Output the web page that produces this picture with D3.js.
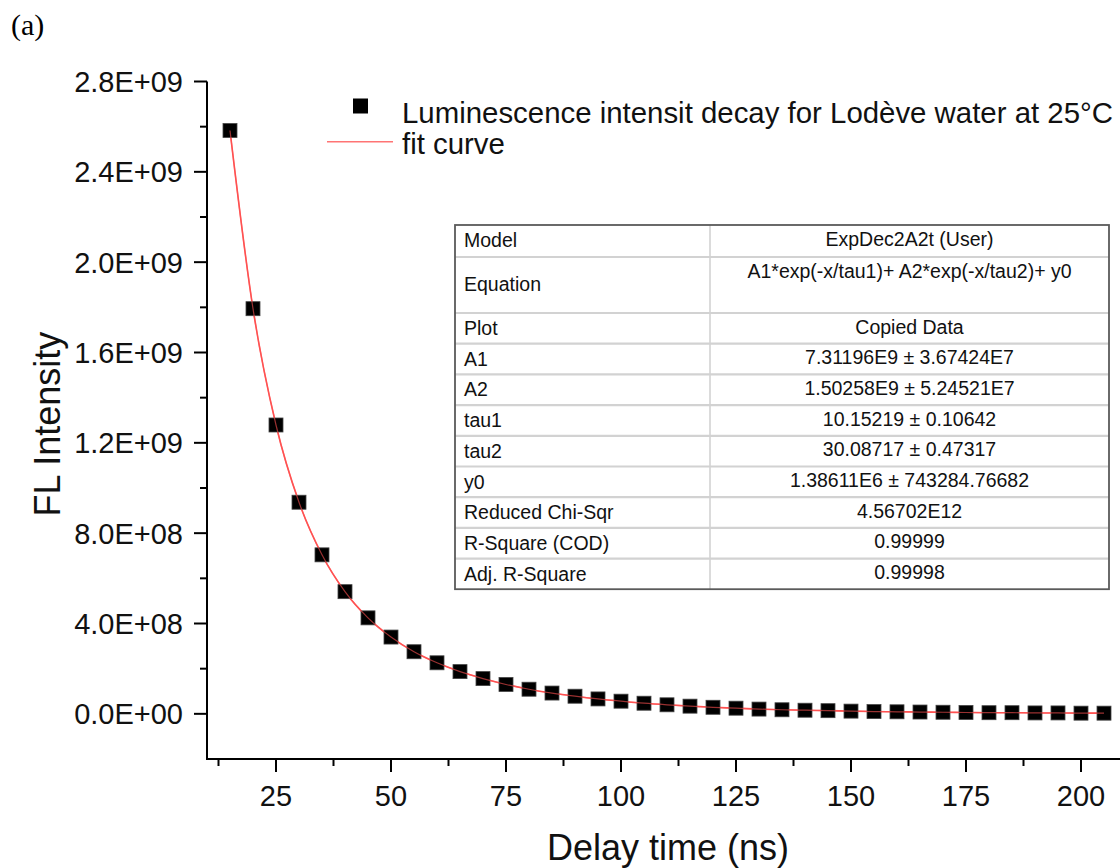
<!DOCTYPE html>
<html>
<head>
<meta charset="utf-8">
<script src="https://cdn.jsdelivr.net/npm/d3@7"></script>
<style>
  html, body { margin: 0; padding: 0; background: #fff; }
  svg { display: block; font-family: "Liberation Sans", Arial, sans-serif; }
</style>
</head>
<body>
<svg id="chart" width="1120" height="868"></svg>
<script>
// data
const delayTime = [15, 20, 25, 30, 35, 40, 45, 50, 55, 60, 65, 70, 75, 80, 85, 90, 95, 100,
  105, 110, 115, 120, 125, 130, 135, 140, 145, 150, 155, 160, 165, 170, 175, 180, 185, 190, 195, 200, 205]
const intensity = [2.583e9, 1.794e9, 1.279e9, 9.37e8, 7.04e8, 5.41e8, 4.25e8, 3.40e8, 2.75e8, 2.26e8,
  1.87e8, 1.56e8, 1.30e8, 1.09e8, 9.2e7, 7.8e7, 6.6e7, 5.6e7, 4.7e7, 4.0e7, 3.4e7, 2.9e7, 2.5e7,
  2.1e7, 1.8e7, 1.6e7, 1.4e7, 1.2e7, 1.0e7, 9e6, 8e6, 7e6, 6e6, 5e6, 5e6, 4e6, 4e6, 3e6, 3e6]

const xTicks = [25, 50, 75, 100, 125, 150, 175, 200]
const xMinorTicks = [12.5, 37.5, 62.5, 87.5, 112.5, 137.5, 162.5, 187.5]
const yTicks = [0, 4e8, 8e8, 1.2e9, 1.6e9, 2.0e9, 2.4e9, 2.8e9]
const yTickLabels = ["0.0E+00", "4.0E+08", "8.0E+08", "1.2E+09", "1.6E+09", "2.0E+09", "2.4E+09", "2.8E+09"]
const yMinorTicks = [2e8, 6e8, 1.0e9, 1.4e9, 1.8e9, 2.2e9, 2.6e9]

const legendLabels = ["Luminescence intensit decay for Lodève water at 25°C", "fit curve"]

const tableLabels = ["Model", "Equation", "Plot", "A1", "A2", "tau1", "tau2", "y0",
  "Reduced Chi-Sqr", "R-Square (COD)", "Adj. R-Square"]
const tableValues = ["ExpDec2A2t (User)", "A1*exp(-x/tau1)+ A2*exp(-x/tau2)+ y0", "Copied Data",
  "7.31196E9 ± 3.67424E7", "1.50258E9 ± 5.24521E7", "10.15219 ± 0.10642", "30.08717 ± 0.47317",
  "1.38611E6 ± 743284.76682", "4.56702E12", "0.99999", "0.99998"]

var svg = d3.select("#chart")
var red = "#ff5252"

var x = d3.scaleLinear().domain([10, 210]).range([207, 1127])
var y = d3.scaleLinear().domain([-2e8, 2.8e9]).range([759, 81.5])

// panel letter
svg.append("text").attr("x", 11).attr("y", 35)
  .style("font-family", "'Liberation Serif', 'Times New Roman', serif")
  .style("font-size", "30px").text("(a)")

// x axis
var xAxis = svg.append("g").attr("transform", "translate(0," + y.range()[0] + ")")
xAxis.append("line").attr("x1", x.range()[0] - 1).attr("x2", x.range()[1])
  .attr("stroke", "#000").attr("stroke-width", 2)
xAxis.selectAll(".maj").data(xTicks).join("line")
  .attr("x1", d => x(d)).attr("x2", d => x(d)).attr("y1", 0).attr("y2", 13)
  .attr("stroke", "#000").attr("stroke-width", 2)
xAxis.selectAll(".min").data(xMinorTicks).join("line")
  .attr("x1", d => x(d)).attr("x2", d => x(d)).attr("y1", 0).attr("y2", 7)
  .attr("stroke", "#000").attr("stroke-width", 2)
xAxis.selectAll("text").data(xTicks).join("text")
  .attr("x", d => x(d)).attr("y", 47).attr("text-anchor", "middle")
  .style("font-size", "29px").attr("fill", "#111").text(d => d)

// y axis
var yAxis = svg.append("g").attr("transform", "translate(" + x.range()[0] + ",0)")
yAxis.append("line").attr("y1", y(2.8e9)).attr("y2", y.range()[0] + 1)
  .attr("stroke", "#000").attr("stroke-width", 2)
yAxis.selectAll(".maj").data(yTicks).join("line")
  .attr("y1", d => y(d)).attr("y2", d => y(d)).attr("x1", 0).attr("x2", -13)
  .attr("stroke", "#000").attr("stroke-width", 2)
yAxis.selectAll(".min").data(yMinorTicks).join("line")
  .attr("y1", d => y(d)).attr("y2", d => y(d)).attr("x1", 0).attr("x2", -7)
  .attr("stroke", "#000").attr("stroke-width", 2)
yAxis.selectAll("text").data(yTicks).join("text")
  .attr("x", -24).attr("y", d => y(d)).attr("dy", "0.36em").attr("text-anchor", "end")
  .style("font-size", "29px").attr("fill", "#111").text((d, i) => yTickLabels[i])

// axis titles
svg.append("text").attr("x", 668).attr("y", 860).attr("text-anchor", "middle")
  .style("font-size", "36px").attr("fill", "#111").text("Delay time (ns)")
svg.append("text").attr("transform", "translate(60,424) rotate(-90)").attr("text-anchor", "middle")
  .style("font-size", "36px").attr("fill", "#111").text("FL Intensity")

// fit curve through the points
var pts = delayTime.map((t, i) => [t, intensity[i]])
var fitLine = d3.line().x(d => x(d[0])).y(d => y(d[1])).curve(d3.curveMonotoneX)
svg.append("path").datum(pts).attr("d", fitLine)
  .attr("fill", "none").attr("stroke", red).attr("stroke-width", 1.6)

// data squares
var sq = 14
svg.append("g").selectAll("rect").data(pts).join("rect")
  .attr("x", d => x(d[0]) - sq / 2).attr("y", d => y(d[1]) - sq / 2)
  .attr("width", sq).attr("height", sq)
  .attr("fill", "#000").attr("stroke", "#444").attr("stroke-width", 0.8)

// fit line again on top, faint, as it shows through the squares
svg.append("path").datum(pts).attr("d", fitLine)
  .attr("fill", "none").attr("stroke", red).attr("stroke-width", 1.2).attr("opacity", 0.6)

// legend
var leg = svg.append("g")
leg.append("rect").attr("x", 353).attr("y", 98.5).attr("width", 15).attr("height", 15).attr("fill", "#000")
leg.append("text").attr("x", 402).attr("y", 123).style("font-size", "29.4px").attr("fill", "#111").text(legendLabels[0])
leg.append("line").attr("x1", 327).attr("x2", 393).attr("y1", 141.7).attr("y2", 141.7)
  .attr("stroke", red).attr("stroke-width", 1.6).attr("opacity", 0.8)
leg.append("text").attr("x", 402).attr("y", 154).style("font-size", "29.4px").attr("fill", "#111").text(legendLabels[1])

// parameter table
var tLeft = 455, tMid = 710, tRight = 1109, tTop = 225
var rowH = [32, 56, 30.7, 30.7, 30.7, 30.7, 30.7, 30.7, 30.7, 30.7, 30.6]
var rowTops = []
rowH.reduce((acc, h) => { rowTops.push(acc); return acc + h }, tTop)
var tBottom = rowTops[rowTops.length - 1] + rowH[rowH.length - 1]

var tbl = svg.append("g").style("font-size", "19.5px").attr("fill", "#111")
tbl.append("rect").attr("x", tLeft).attr("y", tTop).attr("width", tRight - tLeft).attr("height", tBottom - tTop)
  .attr("fill", "#fff")
tbl.selectAll(".rowline").data(rowTops.slice(1)).join("line")
  .attr("x1", tLeft).attr("x2", tRight).attr("y1", d => d).attr("y2", d => d)
  .attr("stroke", "#d2d2d2").attr("stroke-width", 2.2)
tbl.append("line").attr("x1", tMid).attr("x2", tMid).attr("y1", tTop).attr("y2", tBottom)
  .attr("stroke", "#d2d2d2").attr("stroke-width", 1.6)
tbl.append("rect").attr("x", tLeft).attr("y", tTop).attr("width", tRight - tLeft).attr("height", tBottom - tTop)
  .attr("fill", "none").attr("stroke", "#5a5a5a").attr("stroke-width", 1.8)

tbl.selectAll(".lab").data(tableLabels).join("text")
  .attr("x", tLeft + 9)
  .attr("y", (d, i) => i === 1 ? rowTops[i] + 34 : rowTops[i] + 22)
  .text(d => d)
tbl.selectAll(".val").data(tableValues).join("text")
  .attr("x", (tMid + tRight) / 2).attr("text-anchor", "middle")
  .attr("y", (d, i) => rowTops[i] + 20.5)
  .text(d => d)
</script>
</body>
</html>
